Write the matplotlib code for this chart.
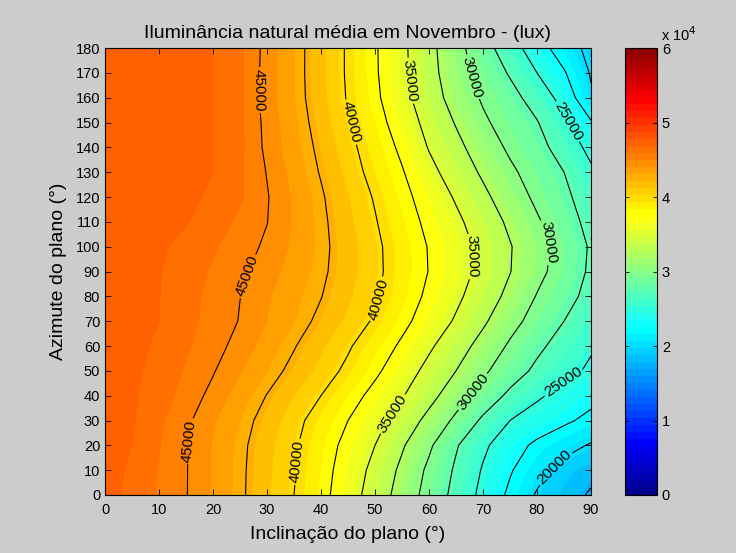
import numpy as np
import matplotlib
matplotlib.use("Agg")
import matplotlib.pyplot as plt
from matplotlib.colors import Normalize, ListedColormap
from matplotlib.cm import ScalarMappable

plt.rcParams['font.family'] = ['Liberation Sans', 'DejaVu Sans']

# Inclinação do plano (graus) e azimute do plano (graus)
inclinacao = list(range(0, 91, 5))
azimute = list(range(0, 181, 10))

# Iluminância média (lux): uma linha por azimute, uma coluna por inclinação
iluminancia = [
    [47300, 46573, 45817, 45060, 43935, 42778, 41420, 40000, 38214, 36136, 33884, 31531, 29107, 26786, 24330, 22041, 19747, 18485, 17222],
    [47300, 46711, 45888, 45066, 43945, 42798, 41495, 40136, 38370, 36434, 34318, 32000, 29528, 27163, 24792, 22708, 20893, 19107, 18200],
    [47400, 46875, 45982, 45089, 43986, 42860, 41596, 40266, 38611, 36838, 35000, 32768, 30385, 27717, 25446, 23529, 22009, 20893, 19777],
    [47400, 46963, 46147, 45237, 44196, 43109, 41915, 40585, 39103, 37500, 35833, 33958, 31818, 29500, 27083, 25000, 23958, 22917, 21875],
    [47400, 47025, 46390, 45582, 44688, 43571, 42451, 41225, 40000, 38438, 36833, 35167, 33269, 31136, 28958, 27000, 25333, 24227, 23260],
    [47400, 47072, 46577, 45833, 45089, 44127, 43135, 42071, 40881, 39572, 37928, 36159, 34338, 32500, 30417, 28630, 27011, 25575, 24700],
    [47400, 47108, 46742, 46077, 45412, 44617, 43609, 42601, 41429, 40238, 38750, 37143, 35357, 33571, 31667, 29667, 28000, 26555, 25200],
    [47400, 47138, 46875, 46237, 45599, 44946, 44040, 43134, 42153, 40995, 39767, 38100, 36433, 34739, 32873, 30833, 29063, 27500, 25940],
    [47400, 47150, 46900, 46297, 45655, 45013, 44194, 43372, 42549, 41422, 40275, 38716, 37057, 35475, 33750, 31885, 29877, 28333, 26780],
    [47400, 47161, 46923, 46406, 45820, 45234, 44490, 43639, 42789, 41683, 40446, 39000, 37440, 35952, 34357, 32571, 30682, 28889, 27150],
    [47400, 47198, 46996, 46641, 46055, 45469, 44808, 43846, 42885, 41719, 40417, 38938, 37385, 35948, 34401, 32641, 30857, 29058, 27250],
    [47400, 47246, 47091, 46938, 46449, 45739, 45028, 43938, 42832, 41528, 40139, 38558, 36988, 35482, 33819, 32071, 30286, 28542, 26800],
    [47400, 47265, 47131, 46996, 46790, 46050, 45085, 43908, 42694, 41293, 39833, 38167, 36473, 34757, 33021, 31250, 29531, 27969, 26400],
    [47400, 47269, 47138, 47006, 46875, 46100, 44949, 43673, 42381, 40893, 39333, 37667, 35685, 33870, 32158, 30445, 28937, 27500, 25400],
    [47400, 47269, 47138, 47006, 46875, 46150, 44745, 43469, 42125, 40563, 38889, 37054, 34861, 33125, 31306, 29597, 28253, 26535, 24300],
    [47400, 47269, 47138, 47006, 46875, 46150, 44674, 43315, 41842, 40197, 38406, 36364, 34242, 32344, 30391, 28947, 27632, 25455, 22700],
    [47400, 47269, 47138, 47006, 46875, 46150, 44533, 43159, 41597, 39848, 37955, 35773, 33602, 31563, 29716, 28295, 26500, 24096, 20300],
    [47400, 47269, 47138, 47006, 46875, 46150, 44569, 43132, 41528, 39762, 37778, 35545, 33304, 31096, 29107, 27273, 25000, 22727, 19800],
    [47400, 47269, 47138, 47006, 46875, 46150, 44618, 43147, 41528, 39758, 37742, 35500, 33194, 30817, 28500, 26100, 23654, 21200, 19300],
]

niveis_sem_rotulo = [17500, 22500, 27500, 32500, 37500, 42500]
niveis_rotulados = [20000, 25000, 30000, 35000, 40000, 45000]
posicoes_rotulos = [
    (28.1, 163), (26.5, 88), (15.7, 21.7),
    (46.5, 150.6), (51.1, 78.5), (36.1, 13.3),
    (57.2, 167), (69.1, 96), (54.1, 31.4),
    (67.5, 168), (82.5, 102), (68.5, 41),
    (84.5, 149), (85.0, 45),
    (83.5, 10.5),
]


def jet_matlab(n=64):
    """Mapa de cores 'jet' com a mesma construção por patamares do MATLAB."""
    m = n // 4
    x = np.arange(1, m + 1) / m
    y = np.arange(m // 2, m + 1) / m
    e = np.ones(m)
    r = np.concatenate([0 * y, 0 * e, x, e, y[::-1]])
    g = np.concatenate([0 * y, x, e, x[::-1], 0 * y])
    b = np.concatenate([y, e, x[::-1], 0 * e, 0 * y])
    cores = np.stack([r, g, b], axis=1)
    while len(cores) > n:
        cores = cores[1:]
        if len(cores) > n:
            cores = cores[:-1]
    return ListedColormap(cores)


X, Y = np.meshgrid(inclinacao, azimute)
Z = np.array(iluminancia, dtype=float)

jet64 = jet_matlab(64)
fig = plt.figure(figsize=(7.36, 5.53), dpi=100, facecolor='#cccccc')
ax = fig.add_axes([105 / 736, 58 / 553, 486 / 736, 447 / 553])

ax.contourf(X, Y, Z, levels=np.linspace(0, 60000, 65), cmap=jet64,
            vmin=0, vmax=60000)
ax.contour(X, Y, Z, levels=niveis_sem_rotulo, colors='k', linewidths=0.8)
cs = ax.contour(X, Y, Z, levels=niveis_rotulados, colors='k', linewidths=0.8)
ax.clabel(cs, manual=posicoes_rotulos, fmt='%d', fontsize=11,
          inline=True, inline_spacing=2)

ax.set_xlim(0, 90)
ax.set_ylim(0, 180)
ax.set_xticks(range(0, 91, 10))
ax.set_yticks(range(0, 181, 10))
ax.tick_params(direction='in', top=True, right=True, labelsize=10.5,
               length=4, width=0.6)
ax.tick_params(axis='x', pad=6)
for s in ax.spines.values():
    s.set_linewidth(0.8)

ax.set_title('Iluminância natural média em Novembro - (lux)', fontsize=14, pad=7)
ax.set_xlabel('Inclinação do plano (°)', fontsize=14, labelpad=6)
ax.set_ylabel('Azimute do plano (°)', fontsize=14, labelpad=6)

cax = fig.add_axes([625 / 736, 58 / 553, 32 / 736, 447 / 553])
cb = fig.colorbar(ScalarMappable(norm=Normalize(0, 60000), cmap=jet64),
                  cax=cax, ticks=np.arange(0, 60001, 10000))
cb.ax.set_yticklabels([str(i) for i in range(7)])
cb.ax.tick_params(direction='in', left=True, right=True, labelsize=10.5,
                  length=3, width=0.6)
cb.outline.set_linewidth(0.8)
fig.text(661 / 736, 1 - 44 / 553, r'x 10$^4$', fontsize=10.5, va='bottom')

fig.savefig('out.png', dpi=100, facecolor=fig.get_facecolor())
